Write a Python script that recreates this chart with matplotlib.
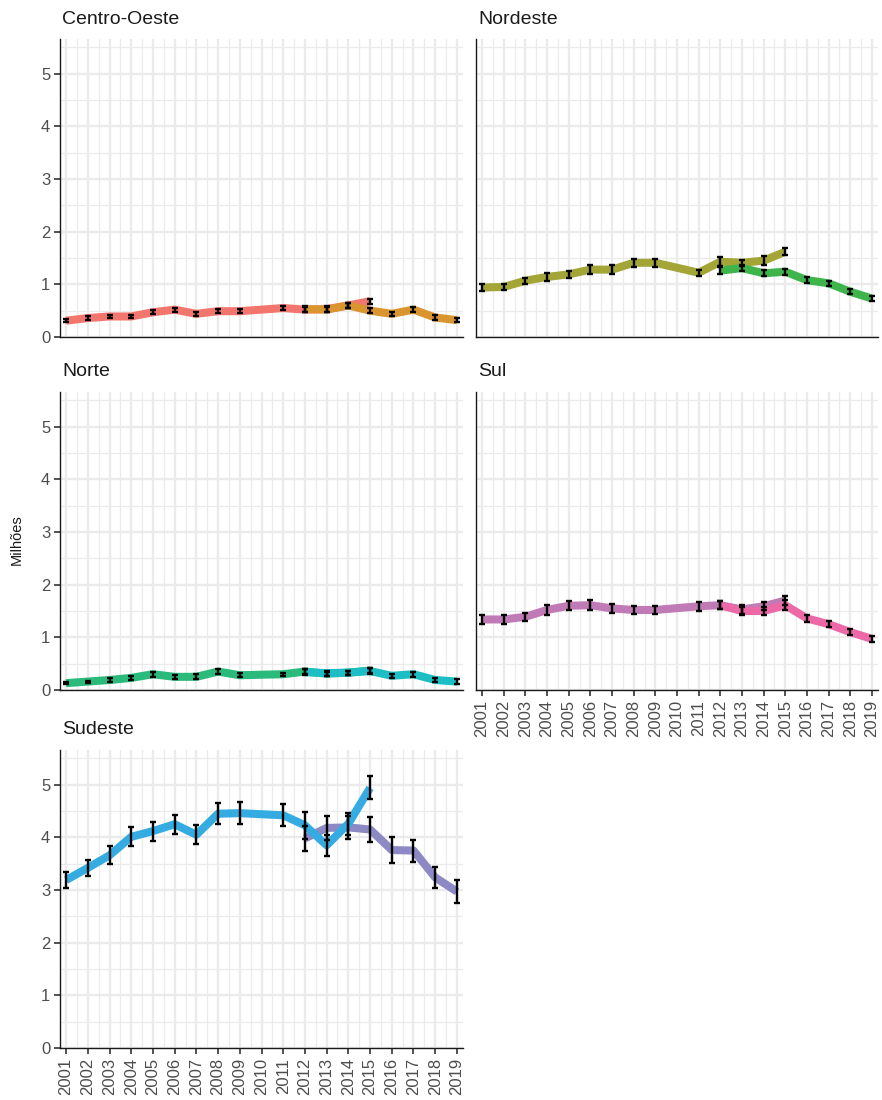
import matplotlib
matplotlib.use("Agg")
import matplotlib.pyplot as plt
from matplotlib.ticker import MultipleLocator, FixedLocator

plt.rcParams['font.family'] = ['Liberation Sans', 'DejaVu Sans']

# Survey years
years_pnad = [2001, 2002, 2003, 2004, 2005, 2006, 2007, 2008, 2009, 2011, 2012, 2013, 2014, 2015]
years_pnadc = [2012, 2013, 2014, 2015, 2016, 2017, 2018, 2019]
tick_years = list(range(2001, 2020))

regions = ["Centro-Oeste", "Nordeste", "Norte", "Sul", "Sudeste"]

# Estimates (millions) and half-widths of the confidence intervals
co_pnad = [0.31, 0.36, 0.39, 0.39, 0.47, 0.52, 0.44, 0.49, 0.49, 0.55, 0.52, 0.53, 0.60, 0.68]
co_pnad_err = [0.03, 0.03, 0.03, 0.03, 0.04, 0.04, 0.04, 0.04, 0.04, 0.04, 0.05, 0.05, 0.05, 0.05]
co_pnadc = [0.53, 0.52, 0.60, 0.50, 0.44, 0.52, 0.37, 0.32]
co_pnadc_err = [0.05, 0.05, 0.05, 0.05, 0.04, 0.05, 0.04, 0.04]

ne_pnad = [0.94, 0.95, 1.07, 1.14, 1.19, 1.28, 1.28, 1.41, 1.41, 1.22, 1.43, 1.41, 1.45, 1.62]
ne_pnad_err = [0.06, 0.05, 0.06, 0.07, 0.07, 0.08, 0.08, 0.08, 0.08, 0.06, 0.08, 0.06, 0.09, 0.07]
ne_pnadc = [1.26, 1.31, 1.21, 1.24, 1.08, 1.02, 0.86, 0.73]
ne_pnadc_err = [0.07, 0.06, 0.06, 0.06, 0.06, 0.05, 0.05, 0.05]

no_pnad = [0.13, 0.16, 0.19, 0.23, 0.30, 0.25, 0.25, 0.35, 0.28, 0.30, 0.35, 0.31, 0.33, 0.37]
no_pnad_err = [0.02, 0.02, 0.03, 0.04, 0.05, 0.04, 0.05, 0.05, 0.04, 0.03, 0.05, 0.04, 0.04, 0.05]
no_pnadc = [0.34, 0.32, 0.33, 0.36, 0.27, 0.30, 0.19, 0.16]
no_pnadc_err = [0.05, 0.05, 0.04, 0.05, 0.04, 0.05, 0.04, 0.04]

su_pnad = [1.34, 1.34, 1.39, 1.52, 1.60, 1.61, 1.55, 1.52, 1.52, 1.59, 1.61, 1.53, 1.59, 1.70]
su_pnad_err = [0.08, 0.08, 0.08, 0.09, 0.09, 0.09, 0.08, 0.08, 0.08, 0.09, 0.08, 0.08, 0.08, 0.09]
su_pnadc = [1.61, 1.50, 1.50, 1.61, 1.36, 1.25, 1.10, 0.97]
su_pnadc_err = [0.08, 0.08, 0.08, 0.09, 0.07, 0.06, 0.06, 0.05]

se_pnad = [3.19, 3.42, 3.66, 4.01, 4.12, 4.25, 4.05, 4.45, 4.46, 4.42, 4.23, 3.85, 4.26, 4.94]
se_pnad_err = [0.15, 0.16, 0.17, 0.18, 0.18, 0.18, 0.18, 0.20, 0.21, 0.21, 0.26, 0.20, 0.21, 0.22]
se_pnadc = [3.98, 4.18, 4.19, 4.15, 3.76, 3.75, 3.24, 2.97]
se_pnadc_err = [0.24, 0.23, 0.22, 0.24, 0.24, 0.21, 0.20, 0.22]

series = {
    "Centro-Oeste": (co_pnad, co_pnad_err, co_pnadc, co_pnadc_err),
    "Nordeste": (ne_pnad, ne_pnad_err, ne_pnadc, ne_pnadc_err),
    "Norte": (no_pnad, no_pnad_err, no_pnadc, no_pnadc_err),
    "Sul": (su_pnad, su_pnad_err, su_pnadc, su_pnadc_err),
    "Sudeste": (se_pnad, se_pnad_err, se_pnadc, se_pnadc_err),
}

# (PNAD, PNAD Contínua) line colours per region
colors = {
    "Centro-Oeste": ("#F3766E", "#DA952E"),
    "Nordeste": ("#A3A536", "#3DB54B"),
    "Norte": ("#2ABA7C", "#1CBEC6"),
    "Sudeste": ("#35ACE1", "#8C89C4"),
    "Sul": ("#C07BB7", "#EC68A6"),
}
# which survey line sits on top in each panel
pnad_on_top = {"Centro-Oeste": False, "Nordeste": False, "Norte": False,
               "Sul": False, "Sudeste": True}

W, H = 882, 1100
fig = plt.figure(figsize=(W / 100, H / 100), dpi=100)

col_x = [(60, 463), (476, 878)]
row_y = [(39, 337), (392, 690), (750, 1048)]
layout = {
    "Centro-Oeste": (0, 0), "Nordeste": (0, 1),
    "Norte": (1, 0), "Sul": (1, 1),
    "Sudeste": (2, 0),
}
bottom_labels = {"Sul", "Sudeste"}

grid_col = "#EBEBEB"
text_col = "#4D4D4D"

for reg in regions:
    r, c = layout[reg]
    x0, x1 = col_x[c]
    y0, y1 = row_y[r]
    ax = fig.add_axes([x0 / W, 1 - y1 / H, (x1 - x0) / W, (y1 - y0) / H])
    ax.set_xlim(2000.72, 2019.28)
    ax.set_ylim(0, 5.66)

    ax.xaxis.set_major_locator(FixedLocator(tick_years))
    ax.xaxis.set_minor_locator(MultipleLocator(0.5))
    ax.yaxis.set_major_locator(MultipleLocator(1))
    ax.yaxis.set_minor_locator(MultipleLocator(0.5))
    ax.grid(True, which="major", color=grid_col, linewidth=1.7, zorder=0)
    ax.grid(True, which="minor", color=grid_col, linewidth=0.9, zorder=0)
    ax.set_axisbelow(True)

    for side in ("top", "right"):
        ax.spines[side].set_visible(False)
    for side in ("left", "bottom"):
        ax.spines[side].set_color("#1A1A1A")
        ax.spines[side].set_linewidth(1.0)

    ax.tick_params(which="minor", length=0)
    if c == 0:
        ax.tick_params(axis="y", which="major", length=4, width=1.2, color="#333333",
                       labelsize=12, labelcolor=text_col, pad=3)
    else:
        ax.tick_params(axis="y", which="major", length=0, labelleft=False)
    if reg in bottom_labels:
        ax.tick_params(axis="x", which="major", length=4, width=1.2, color="#333333",
                       labelsize=12, labelcolor=text_col, pad=3)
        ax.set_xticklabels([str(y) for y in tick_years], rotation=90)
    else:
        ax.tick_params(axis="x", which="major", length=0, labelbottom=False)

    p, pe, q, qe = series[reg]
    c1, c2 = colors[reg]
    top1 = 3 if pnad_on_top[reg] else 2
    top2 = 2 if pnad_on_top[reg] else 3
    ax.plot(years_pnad, p, color=c1, linewidth=5.8,
            solid_joinstyle="round", solid_capstyle="butt", zorder=top1)
    ax.plot(years_pnadc, q, color=c2, linewidth=5.8,
            solid_joinstyle="round", solid_capstyle="butt", zorder=top2)
    ax.errorbar(years_pnad, p, yerr=pe, fmt="none", ecolor="black",
                elinewidth=1.7, capsize=2.4, capthick=1.7, zorder=4)
    ax.errorbar(years_pnadc, q, yerr=qe, fmt="none", ecolor="black",
                elinewidth=1.7, capsize=2.4, capthick=1.7, zorder=4)

    fig.text((x0 + 2) / W, 1 - (y0 - 20) / H, reg, fontsize=14,
             color="#1A1A1A", ha="left", va="center")

fig.text(17 / W, 1 - 540 / H, "Milhões", rotation=90, fontsize=10.5,
         color="#1A1A1A", ha="center", va="center")

fig.savefig("out.png", dpi=100, facecolor="white")
